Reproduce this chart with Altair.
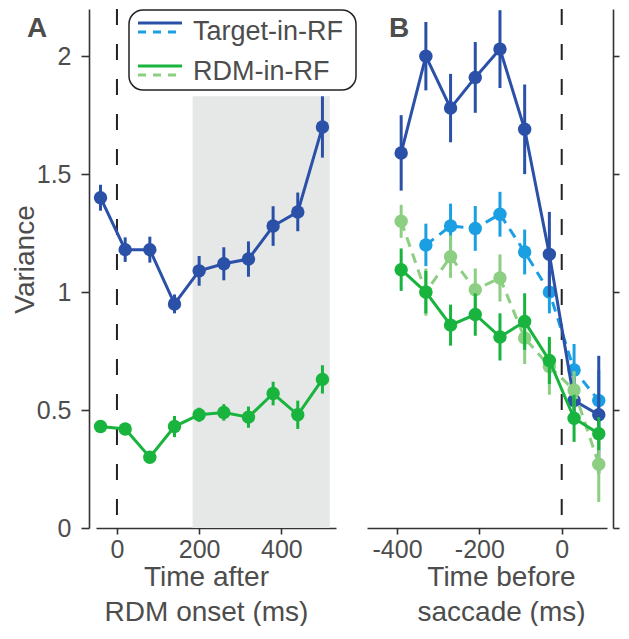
import altair as alt
import pandas as pd

# ---------------- data ----------------
# Panel A: time after RDM onset (ms)
tA = [-40, 20, 80, 140, 200, 260, 320, 380, 440, 500]
A_target = [1.40, 1.18, 1.18, 0.95, 1.09, 1.12, 1.14, 1.28, 1.34, 1.70]
A_target_err = [0.055, 0.052, 0.055, 0.04, 0.063, 0.07, 0.075, 0.084, 0.082, 0.13]
A_rdm = [0.43, 0.42, 0.30, 0.43, 0.48, 0.49, 0.47, 0.57, 0.48, 0.63]
A_rdm_err = [0.01, 0.015, 0.02, 0.045, 0.03, 0.035, 0.045, 0.05, 0.06, 0.06]
shade_start, shade_end, shade_top = 184, 518, 1.83

# Panel B: time before saccade (ms)
tB = [-390, -330, -270, -210, -150, -90, -30, 30, 90]
B_target = [1.59, 2.00, 1.78, 1.91, 2.03, 1.69, 1.16, 0.54, 0.48]
B_target_err = [0.16, 0.145, 0.145, 0.15, 0.165, 0.19, 0.18, 0.10, 0.25]
tB_dash = [-330, -270, -210, -150, -90, -30, 30, 90]
B_target_dash = [1.20, 1.28, 1.27, 1.33, 1.17, 1.00, 0.67, 0.54]
B_target_dash_err = [0.09, 0.095, 0.095, 0.095, 0.095, 0.09, 0.11, 0.13]
B_rdm = [1.095, 1.0, 0.86, 0.905, 0.81, 0.875, 0.71, 0.465, 0.40]
B_rdm_err = [0.09, 0.09, 0.087, 0.09, 0.1, 0.12, 0.1, 0.1, 0.07]
B_rdm_dash = [1.30, 1.0, 1.15, 1.01, 1.06, 0.805, 0.685, 0.585, 0.27]
B_rdm_dash_err = [0.07, 0.1, 0.09, 0.09, 0.1, 0.11, 0.12, 0.08, 0.16]

y_ticks = [0, 0.5, 1, 1.5, 2]
A_xticks = [0, 200, 400]
B_xticks = [-400, -200, 0]

# ---------------- style ----------------
DARK_BLUE = "#2a50a8"
LIGHT_BLUE = "#1b9fe3"
GREEN = "#18b43e"
LIGHT_GREEN = "#8ccf82"
GRAY = "#e6e7e7"
TXT = "#4d4d4d"
FONT = "Liberation Sans"
DASH = [10, 7]

WA, WB, H = 240, 240, 519
YDOM = [0, 2.2]
A_dom = [-51, 533]
B_dom = [-473, 110]

yscale = alt.Scale(domain=YDOM, nice=False, zero=False)


def yaxis_left():
    return alt.Axis(orient="left", offset=7, values=y_ticks, format="~g",
                    title="Variance", titleFontSize=28, titleX=-56, titleY=250,
                    titleBaseline="alphabetic", labelFontSize=25, tickSize=8,
                    labelPadding=10)


def yaxis_right():
    return alt.Axis(orient="right", offset=6, values=y_ticks, labels=False,
                    title=None, tickSize=6)


def xaxis(values, title, tx):
    return alt.Axis(values=values, labelExpr="datum.value + ''", title=title,
                    titleFontSize=28, titleX=tx, titleY=57,
                    titleBaseline="alphabetic", titleLineHeight=35,
                    titleAlign="center", labelFontSize=25, tickSize=6,
                    labelPadding=3, labelFlush=False)


def series_layers(t, v, e, color, dash, xs, xa, ya):
    df = pd.DataFrame({"t": t, "v": v, "e": e})
    df["lo"] = df["v"] - df["e"]
    df["hi"] = df["v"] + df["e"]
    base = alt.Chart(df)
    x = alt.X("t:Q", scale=xs, axis=xa)
    err = base.mark_rule(color=color, strokeWidth=3).encode(
        x=x, y=alt.Y("lo:Q", scale=yscale, axis=ya), y2="hi:Q")
    line_kw = dict(color=color, strokeWidth=3)
    if dash:
        line_kw["strokeDash"] = DASH
    line = base.mark_line(**line_kw).encode(
        x=x, y=alt.Y("v:Q", scale=yscale, axis=ya))
    pts = base.mark_circle(color=color, opacity=1, size=180).encode(
        x=x, y=alt.Y("v:Q", scale=yscale, axis=ya))
    return [err, line, pts]


one = pd.DataFrame({"a": [0]})

# ---------------- panel A ----------------
xsA = alt.Scale(domain=A_dom, nice=False, zero=False)
xaA = xaxis(A_xticks, ["Time after", "RDM onset (ms)"], 110)
yaA = yaxis_left()

shade = alt.Chart(pd.DataFrame({"x0": [shade_start], "x1": [shade_end],
                                "y0": [0], "y1": [shade_top]})).mark_rect(
    color=GRAY).encode(
    x=alt.X("x0:Q", scale=xsA, axis=xaA), x2="x1:Q",
    y=alt.Y("y0:Q", scale=yscale, axis=yaA), y2="y1:Q")

zeroA = alt.Chart(pd.DataFrame({"z": [0]})).mark_rule(
    color="#222", strokeWidth=2, strokeDash=[16, 19]).encode(
    x=alt.X("z:Q", scale=xsA, axis=xaA))

layersA = [shade, zeroA]
layersA += series_layers(tA, A_target, A_target_err, DARK_BLUE, False, xsA, xaA, yaA)
layersA += series_layers(tA, A_rdm, A_rdm_err, GREEN, False, xsA, xaA, yaA)

# legend (drawn by hand, to get solid + dashed line symbols)
leg_box = alt.Chart(one).mark_rect(fill="white", stroke="#222", strokeWidth=1.5,
                                   cornerRadius=14).encode(
    x=alt.value(33), x2=alt.value(260), y=alt.value(1), y2=alt.value(81))


def leg_line(y, color, dash):
    kw = dict(color=color, strokeWidth=3)
    if dash:
        kw["strokeDash"] = [8, 7]
    return alt.Chart(one).mark_rule(**kw).encode(
        x=alt.value(42), x2=alt.value(86), y=alt.value(y))


def leg_text(y, s):
    return alt.Chart(one).mark_text(align="left", baseline="alphabetic",
                                    fontSize=27, font=FONT, color=TXT).encode(
        x=alt.value(97), y=alt.value(y), text=alt.value(s))


legend = [leg_box,
          leg_line(14, DARK_BLUE, False), leg_line(23, LIGHT_BLUE, True),
          leg_text(31, "Target-in-RF"),
          leg_line(57, GREEN, False), leg_line(66, LIGHT_GREEN, True),
          leg_text(71, "RDM-in-RF")]

labelA = alt.Chart(one).mark_text(align="left", baseline="alphabetic", fontSize=28,
                                  fontWeight="bold", font=FONT, color=TXT).encode(
    x=alt.value(-69), y=alt.value(28), text=alt.value("A"))

panelA = alt.layer(*(layersA + legend + [labelA])).properties(width=WA, height=H)

# ---------------- panel B ----------------
xsB = alt.Scale(domain=B_dom, nice=False, zero=False)
xaB = xaxis(B_xticks, ["Time before", "saccade (ms)"], 134)
yaB = yaxis_right()

zeroB = alt.Chart(pd.DataFrame({"z": [0]})).mark_rule(
    color="#222", strokeWidth=2, strokeDash=[16, 19]).encode(
    x=alt.X("z:Q", scale=xsB, axis=xaB))

layersB = [zeroB]
layersB += series_layers(tB_dash, B_target_dash, B_target_dash_err, LIGHT_BLUE, True, xsB, xaB, yaB)
layersB += series_layers(tB, B_target, B_target_err, DARK_BLUE, False, xsB, xaB, yaB)
layersB += series_layers(tB, B_rdm_dash, B_rdm_dash_err, LIGHT_GREEN, True, xsB, xaB, yaB)
layersB += series_layers(tB, B_rdm, B_rdm_err, GREEN, False, xsB, xaB, yaB)

labelB = alt.Chart(one).mark_text(align="left", baseline="alphabetic", fontSize=28,
                                  fontWeight="bold", font=FONT, color=TXT).encode(
    x=alt.value(22), y=alt.value(28), text=alt.value("B"))

panelB = alt.layer(*(layersB + [labelB])).properties(width=WB, height=H)

chart = alt.hconcat(panelA, panelB, spacing=31, bounds="flush").properties(
    padding={"left": 3, "top": 0, "right": 0, "bottom": 0}
).configure_axis(
    domainColor="#333", tickColor="#333", domainWidth=1.6, tickWidth=1.6,
    labelColor=TXT, titleColor=TXT, labelFont=FONT, titleFont=FONT,
    titleFontWeight="normal", grid=False
).configure_view(stroke=None)

chart.save("out.html", embed_options={"renderer": "svg", "actions": False})
